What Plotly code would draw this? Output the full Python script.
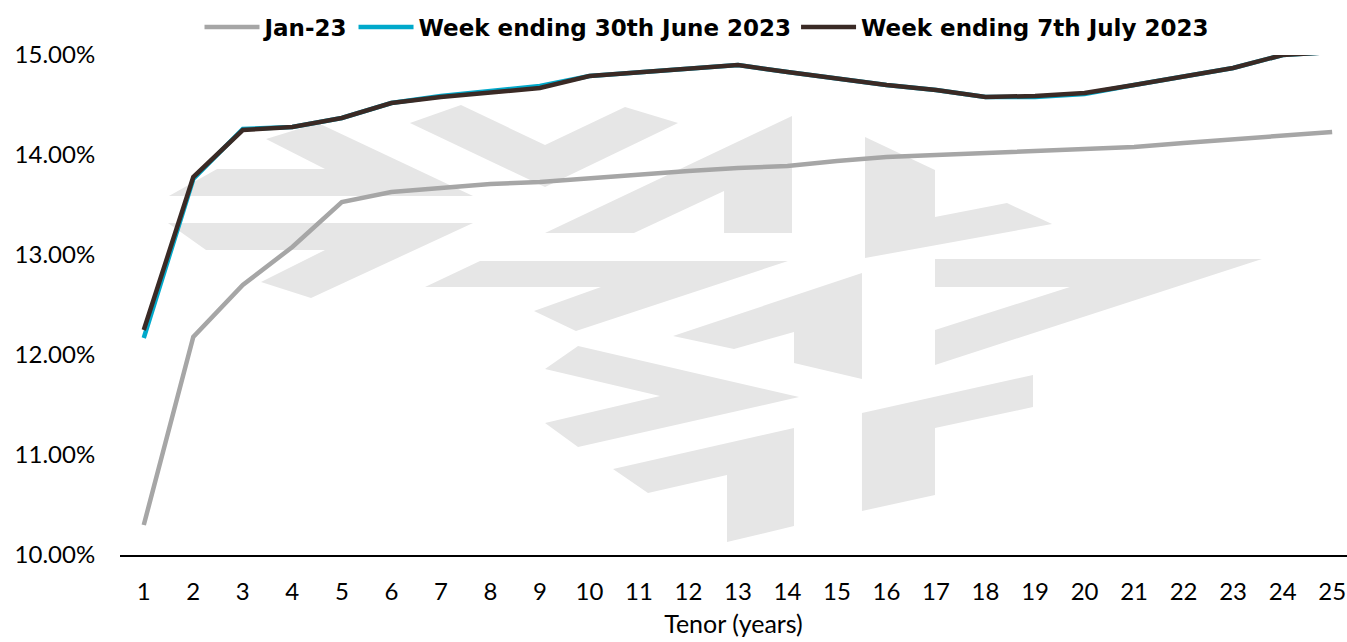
import plotly.graph_objects as go

# ---- data ----
tenor = list(range(1, 26))
jan23 = [10.30, 12.18, 12.70, 13.08, 13.53, 13.63, 13.67, 13.71, 13.73, 13.77,
         13.81, 13.84, 13.87, 13.89, 13.94, 13.98, 14.00, 14.02, 14.03, 14.05,
         14.08, 14.12, 14.16, 14.20, 14.23]
wk_30jun = [12.17, 13.76, 14.26, 14.28, 14.37, 14.52, 14.59, 14.64, 14.69, 14.79,
            14.83, 14.87, 14.90, 14.83, 14.76, 14.70, 14.65, 14.58, 14.58, 14.61,
            14.70, 14.79, 14.87, 15.00, 15.03]
wk_7jul = [12.25, 13.78, 14.25, 14.28, 14.37, 14.52, 14.58, 14.63, 14.67, 14.79,
           14.83, 14.87, 14.90, 14.83, 14.76, 14.70, 14.65, 14.58, 14.59, 14.62,
           14.70, 14.79, 14.87, 15.00, 15.03]
series_names = ["Jan-23", "Week ending 30th June 2023", "Week ending 7th July 2023"]
y_ticks = [10, 11, 12, 13, 14, 15]
y_ticktext = [f"{v:.2f}%" for v in y_ticks]

# ---- decorative watermark polygons (page pixel coordinates) ----
WATERMARK_POLYS = [
    [(266, 139), (318, 123), (473, 196), (169, 196), (217, 169), (325, 169)],
    [(168, 223), (473, 223), (311, 298), (261, 282), (325, 250), (206, 250)],
    [(410, 123), (461, 105), (545, 145), (625, 107), (678, 123), (545, 187)],
    [(545, 233), (792, 116), (792, 233), (724, 233), (724, 191), (634, 233)],
    [(865, 137), (935, 170), (935, 217), (1007, 203), (1052, 224), (865, 258)],
    [(480, 261), (788, 261), (576, 331), (534, 311), (601, 287), (425, 287)],
    [(673, 336), (862, 273), (862, 379), (794, 363), (794, 332), (734, 349)],
    [(935, 259), (1262, 259), (935, 365), (935, 330), (1070, 287), (935, 287)],
    [(545, 369), (578, 346), (799, 397), (578, 447), (545, 423), (660, 396)],
    [(613, 469), (794, 428), (794, 526), (727, 542), (727, 475), (648, 493)],
    [(862, 413), (1033, 375), (1033, 407), (935, 428), (935, 495), (862, 511)],
]

W, H = 1347, 642
ML, MR, MT, MB = 120, 0, 55, 87
PW, PH = W - ML - MR, H - MT - MB


def to_paper(px, py):
    return (px - ML) / PW, (H - MB - py) / PH


shapes = []
for poly in WATERMARK_POLYS:
    pts = [to_paper(x, y) for x, y in poly]
    path = "M " + " L ".join(f"{x:.4f},{y:.4f}" for x, y in pts) + " Z"
    shapes.append(dict(type="path", path=path, xref="paper", yref="paper",
                       fillcolor="#E6E6E6", line=dict(width=0), layer="below"))

colors = ["#A6A6A6", "#00A9CB", "#3A2A25"]
fig = go.Figure()
for name, vals, col in zip(series_names, [jan23, wk_30jun, wk_7jul], colors):
    fig.add_trace(go.Scatter(x=tenor, y=vals, mode="lines", name=name,
                             line=dict(color=col, width=4.5)))

fig.update_layout(
    width=W, height=H,
    margin=dict(l=ML, r=MR, t=MT, b=MB),
    paper_bgcolor="white", plot_bgcolor="white",
    shapes=shapes,
    showlegend=True,
    legend=dict(orientation="h", x=0.478, xanchor="center", y=1.056, yanchor="middle",
                font=dict(family="DejaVu Sans", size=23, color="black", weight="bold"),
                bgcolor="rgba(0,0,0,0)", itemwidth=55, tracegroupgap=0),
    xaxis=dict(range=[0.52, 25.3], tickvals=tenor, ticktext=[str(t) for t in tenor],
               showgrid=False, zeroline=False, showline=True, linecolor="black",
               linewidth=2, ticks="outside", ticklen=14, tickcolor="rgba(0,0,0,0)",
               tickfont=dict(family="Lato", size=24, color="black"),
               title=dict(text="Tenor (years)", standoff=12,
                          font=dict(family="Lato", size=25, color="black"))),
    yaxis=dict(range=[10, 15], tickvals=y_ticks, ticktext=y_ticktext,
               showgrid=False, zeroline=False, showline=False,
               ticks="outside", ticklen=19, tickcolor="rgba(0,0,0,0)",
               tickfont=dict(family="Lato", size=24, color="black")),
)

fig.write_html("out.html")
